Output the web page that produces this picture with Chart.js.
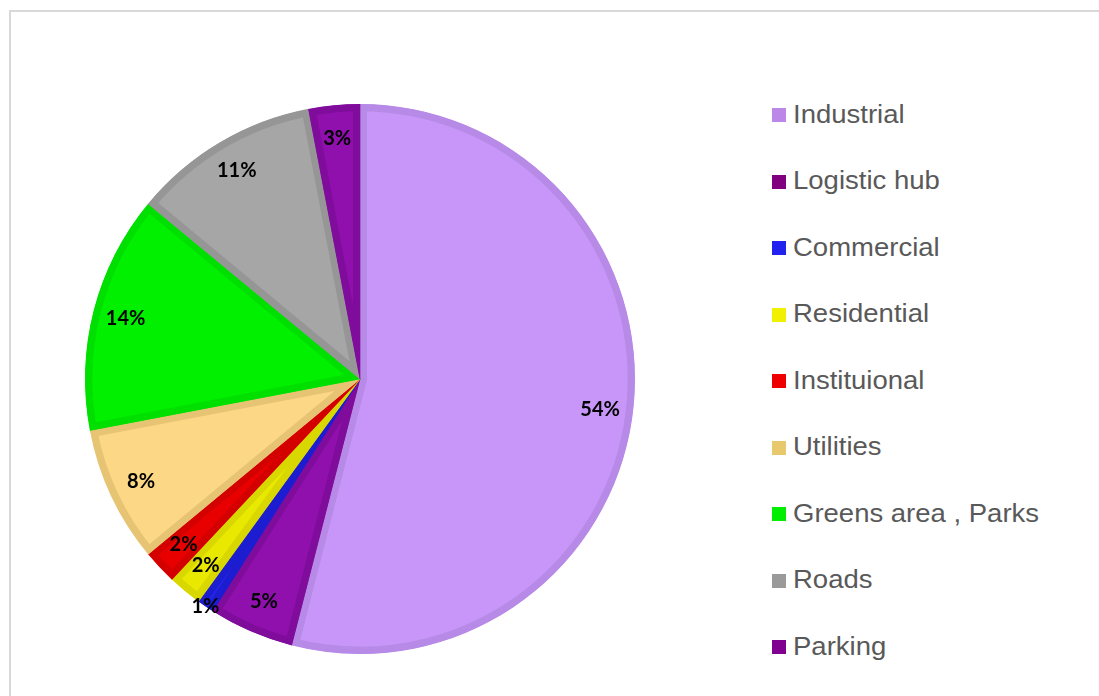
<!DOCTYPE html>
<html>
<head>
<meta charset="utf-8">
<title>Land use</title>
<script src="https://cdn.jsdelivr.net/npm/chart.js@4.4.1/dist/chart.umd.min.js"></script>
<style>
  html, body { margin: 0; padding: 0; background: #fff; overflow: hidden; }
  #frame {
    position: absolute; left: 9px; top: 10px; width: 1200px; height: 800px;
    border: 2px solid #d9d9d9; box-sizing: border-box;
  }
  #pie-box { position: absolute; left: 60px; top: 79px; width: 600px; height: 600px; }
  #legend {
    position: absolute; left: 772px; top: 81px; margin: 0; padding: 0; list-style: none;
    font-family: "Liberation Sans", Arial, sans-serif; font-size: 25px; color: #595959;
  }
  #legend li { display: flex; align-items: center; height: 66.5px; white-space: nowrap; }
  #legend .box { width: 14px; height: 14px; margin-right: 7px; margin-top: 2px; flex: none; }
  #legend .txt { display: inline-block; transform: scaleX(1.1); transform-origin: left center; }
</style>
</head>
<body>
<div id="frame"></div>
<div id="pie-box"><canvas id="chart"></canvas></div>
<ul id="legend"></ul>
<script>
// land use shares, clockwise from 12 o'clock
const categories = ['Industrial', 'Logistic hub', 'Commercial', 'Residential', 'Instituional',
                    'Utilities', 'Greens area , Parks', 'Roads', 'Parking'];
const shares = [54, 5, 1, 2, 2, 8, 14, 11, 3];

const fillColors = ['#C896F8', '#9010AE', '#2424E4', '#E8E800', '#E80000',
                    '#FCD886', '#00F000', '#A6A6A6', '#9010AE'];
const edgeColors = ['#B68AE6', '#800C9C', '#1C1CD0', '#D8D800', '#D40000',
                    '#E6C473', '#00E000', '#969696', '#800C9C'];
const legendColors = ['#BB88E8', '#800080', '#2222EE', '#F0F000', '#EE0000',
                      '#E8C86C', '#00EE00', '#9A9A9A', '#800090'];

// percentage labels drawn on the slices
const sliceLabels = {
    id: 'sliceLabels',
    afterDatasetsDraw(chart) {
        let ctx = chart.ctx;
        let arcs = chart.getDatasetMeta(0).data;
        ctx.save();
        ctx.font = 'bold 20px Lato, "Open Sans", sans-serif';
        ctx.fillStyle = '#000';
        ctx.textAlign = 'center';
        ctx.textBaseline = 'middle';
        arcs.forEach((arc, i) => {
            let p = arc.getProps(['x', 'y', 'startAngle', 'endAngle', 'outerRadius'], true);
            let mid = (p.startAngle + p.endAngle) / 2;
            let r = p.outerRadius * (shares[i] <= 1 ? 1.0 : 0.88);
            ctx.fillText(shares[i] + '%', p.x + Math.cos(mid) * r, p.y + Math.sin(mid) * r);
        });
        ctx.restore();
    }
};

let ctx = document.getElementById('chart').getContext('2d');
let pieChart = new Chart(ctx, {
    type: 'pie',
    data: {
        labels: categories,
        datasets: [{
            data: shares,
            backgroundColor: fillColors,
            borderColor: edgeColors,
            borderWidth: 7,
            borderAlign: 'inner',
            hoverOffset: 0
        }]
    },
    options: {
        responsive: true,
        maintainAspectRatio: false,
        animation: false,
        layout: { padding: 25 },
        plugins: {
            legend: { display: false },
            tooltip: { enabled: false }
        }
    },
    plugins: [sliceLabels]
});

// html legend
let legendEl = document.getElementById('legend');
categories.forEach((name, i) => {
    let li = document.createElement('li');
    let box = document.createElement('span');
    box.className = 'box';
    box.style.background = legendColors[i];
    let txt = document.createElement('span');
    txt.className = 'txt';
    txt.textContent = name;
    li.appendChild(box);
    li.appendChild(txt);
    legendEl.appendChild(li);
});
</script>
</body>
</html>
